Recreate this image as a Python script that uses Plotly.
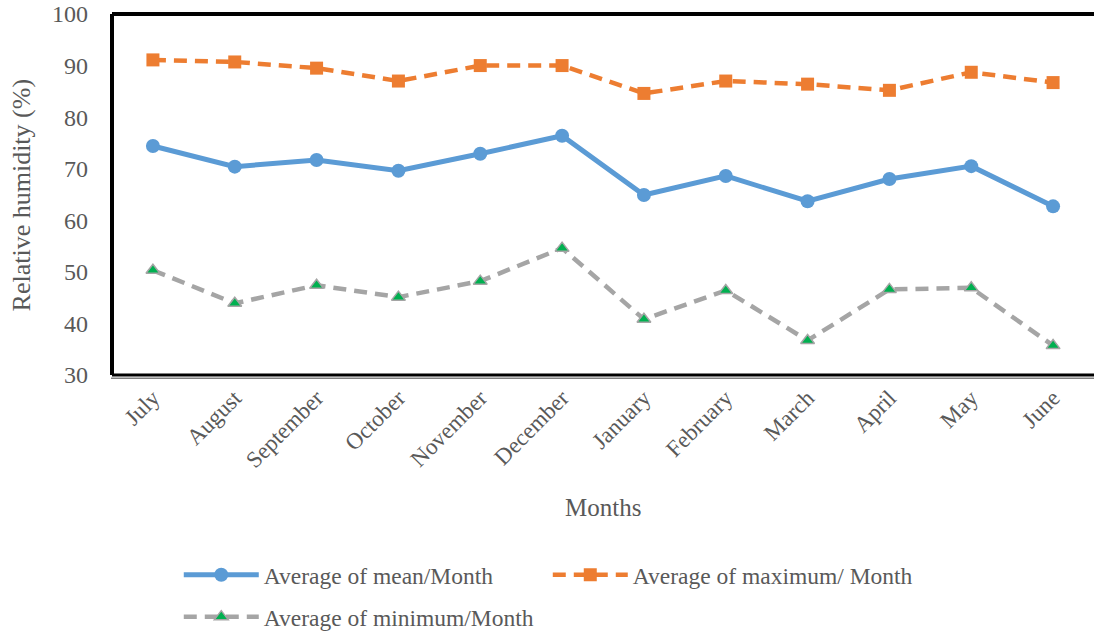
import plotly.graph_objects as go

months = ["July", "August", "September", "October", "November", "December",
          "January", "February", "March", "April", "May", "June"]
mean_rh = [74.4, 70.4, 71.7, 69.6, 72.9, 76.4, 64.9, 68.6, 63.7, 68.0, 70.5, 62.7]
max_rh = [91.1, 90.7, 89.5, 87.0, 90.0, 90.0, 84.6, 87.0, 86.4, 85.2, 88.7, 86.7]
min_rh = [50.3, 43.9, 47.4, 45.1, 48.2, 54.6, 40.8, 46.4, 36.7, 46.6, 46.9, 35.7]

font_family = "Liberation Serif"
text_grey = "#595959"

fig = go.Figure()
fig.add_trace(go.Scatter(
    x=months, y=mean_rh, name="Average of mean/Month", mode="lines+markers",
    line=dict(color="#5B9BD5", width=5),
    marker=dict(symbol="circle", size=14, color="#5B9BD5"),
    legend="legend",
))
fig.add_trace(go.Scatter(
    x=months, y=max_rh, name="Average of maximum/ Month", mode="lines+markers",
    line=dict(color="#ED7D31", width=4.5, dash="13px,8px"),
    marker=dict(symbol="square", size=13, color="#ED7D31"),
    legend="legend",
))
fig.add_trace(go.Scatter(
    x=months, y=min_rh, name="Average of minimum/Month", mode="lines+markers",
    line=dict(color="#A5A5A5", width=4.5, dash="13px,8px"),
    marker=dict(symbol="triangle-up", size=12, color="#00B050",
                line=dict(color="#A5A5A5", width=1.5)),
    legend="legend2",
))

# chart frame: heavy top/left edges, doubled bottom edge
fig.add_shape(type="line", xref="paper", yref="paper", x0=0, x1=1.01, y0=1, y1=1,
              line=dict(color="black", width=4))
fig.add_shape(type="line", xref="paper", yref="paper", x0=0, x1=0, y0=0, y1=1,
              line=dict(color="black", width=4))
fig.add_shape(type="line", xref="paper", yref="paper", x0=0, x1=1.01, y0=0, y1=0,
              line=dict(color="black", width=3))
fig.add_shape(type="line", xref="paper", yref="paper", x0=-0.001, x1=1.01, y0=-0.009, y1=-0.009,
              line=dict(color="#7F7F7F", width=1.5))

fig.add_annotation(text="Months", xref="paper", yref="paper", x=0.5, y=-0.366,
                   showarrow=False, yanchor="middle",
                   font=dict(family=font_family, size=25, color=text_grey))
fig.add_annotation(text="Relative humidity (%)", xref="paper", yref="paper",
                   x=-0.0917, y=0.5, textangle=-90, showarrow=False,
                   xanchor="center", yanchor="middle",
                   font=dict(family=font_family, size=26, color=text_grey))

legend_style = dict(orientation="h", xanchor="left", yanchor="middle",
                    entrywidth=279, entrywidthmode="pixels", itemwidth=75,
                    font=dict(family=font_family, size=23.5, color=text_grey),
                    bgcolor="rgba(0,0,0,0)")

fig.update_layout(
    width=1094, height=634,
    margin=dict(l=112, r=0, t=14, b=259, autoexpand=False),
    paper_bgcolor="white", plot_bgcolor="white",
    font=dict(family=font_family, color=text_grey, size=23),
    showlegend=True,
    legend=dict(x=0.068, y=-0.554, **legend_style),
    legend2=dict(x=0.068, y=-0.670, **legend_style),
    xaxis=dict(type="category", range=[-0.5, 11.5], showgrid=False, showline=False,
               zeroline=False, tickangle=-45, ticks="", ticklabelstandoff=4,
               automargin=False,
               tickfont=dict(family=font_family, size=23, color=text_grey)),
    yaxis=dict(range=[30, 100], dtick=10, showgrid=False, showline=False, zeroline=False,
               ticks="", ticklabelstandoff=23, automargin=False,
               tickfont=dict(family=font_family, size=24, color=text_grey)),
)

fig.write_html("out.html")
